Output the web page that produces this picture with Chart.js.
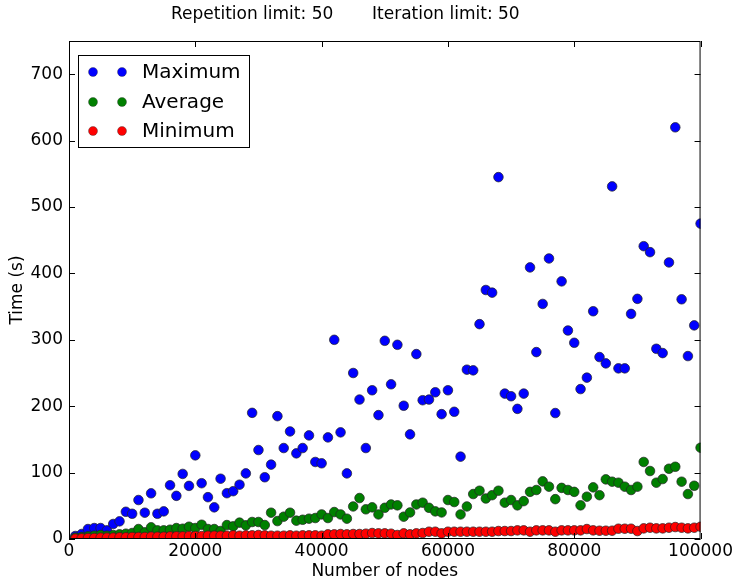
<!DOCTYPE html>
<html>
<head>
<meta charset="utf-8">
<script src="https://cdn.jsdelivr.net/npm/chart.js@4"></script>
<style>
html,body{margin:0;padding:0;background:#fff;}
canvas{display:block;}
</style>
</head>
<body>
<canvas id="c" width="735" height="577"></canvas>
<script>
const titleParts = ["Repetition limit: 50", "Iteration limit: 50"];
const xAxisTitle = "Number of nodes";
const yAxisTitle = "Time (s)";
const seriesNames = ["Maximum", "Average", "Minimum"];
const xTickValues = [0, 20000, 40000, 60000, 80000, 100000];
const yTickValues = [0, 100, 200, 300, 400, 500, 600, 700];

const nodes = [1000,2000,3000,4000,5000,6000,7000,8000,9000,10000,
11000,12000,13000,14000,15000,16000,17000,18000,19000,20000,
21000,22000,23000,24000,25000,26000,27000,28000,29000,30000,
31000,32000,33000,34000,35000,36000,37000,38000,39000,40000,
41000,42000,43000,44000,45000,46000,47000,48000,49000,50000,
51000,52000,53000,54000,55000,56000,57000,58000,59000,60000,
61000,62000,63000,64000,65000,66000,67000,68000,69000,70000,
71000,72000,73000,74000,75000,76000,77000,78000,79000,80000,
81000,82000,83000,84000,85000,86000,87000,88000,89000,90000,
91000,92000,93000,94000,95000,96000,97000,98000,99000,100000];

const maximum = [4.5,7.5,15,16.5,16.5,13,22.6,26.6,41,38,
58.7,39.6,68.8,38,41.6,81,65,98,80,126,
84,63,47.7,90.8,69,72,81.8,98.8,190,134,
93,112,185,137,162,129,137,156,116,114,
153,300,160.6,98.8,250,210,137,224,186.6,298.5,
233,292.5,200.7,157.6,278.5,209,210,221,188,224,
191.6,124,255,254,323.6,375,371,545,219,215,
196,219,409,281.5,354,422.5,189.7,388,314,295.5,
225.8,243,343,274,264.5,531,257,257,339,361.7,
441,432,286.5,280,416.5,620,361,275.5,321.7,475];

const average = [2,3,4,5,6,5,6,7,8,9,
15,10,17.6,13,13,14,16.5,15.5,18.5,16.5,
21.5,15,15,12,21,19,24.6,20.6,25.6,25.6,
21,39.6,27,33.6,39.6,27.6,29,30.6,31.6,37,
31.6,40.6,37,30.6,49,61.7,44.7,47.7,37,47,
52,50.7,33.6,40,52,54.7,47,41.6,40,58.7,
55.7,37,49,67.7,72.7,61,66,72.7,54.7,58.7,
50.7,57,71,73.8,86.8,78.8,60,77,73.8,71,
50.7,63.7,77.8,66,89.8,86.3,84.8,78.8,73.8,78.8,
116,102.4,84.8,90.3,105.8,108.8,86.3,67.7,80.2,137.5];

const minimum = [0.5,1,1.5,1.5,2,2,2,2.5,2.5,3,
3,3,3.5,3.5,3.5,4,4,4,4.5,4.5,
4.5,5,5,5,5,5.5,5,5.5,5.5,6,
5.5,5,5,5,5.5,5,5.5,5.5,5.5,5,
7,7,7.5,7,7.5,7.5,8,9,8.5,
8.5,8,6,8.5,7,8.5,9,11,11,8.5,11,
11,11,11,11,11,11,11,12,12,12,
13,13,11,13,13,13,11,13,13,13,13,15,13,
12.5,12.5,12.5,15.5,15.5,15.5,12,16,17,16,16,17,18,17,16,17,18.5];

const colors = ["#0000ff", "#008000", "#ff0000"];
const FONT = "'DejaVu Sans', sans-serif";

function pts(ys) { return nodes.map((x, i) => ({x: x, y: ys[i]})); }

const frameAndTicks = {
  id: 'frameAndTicks',
  afterDatasetsDraw(chart) {
    const {ctx, chartArea: a, scales} = chart;
    ctx.save();
    ctx.strokeStyle = '#000';
    ctx.lineWidth = 1;
    const L = 6;
    ctx.beginPath();
    scales.x.ticks.forEach(t => {
      const px = Math.round(scales.x.getPixelForValue(t.value)) + 0.5;
      ctx.moveTo(px, a.bottom); ctx.lineTo(px, a.bottom - L);
      ctx.moveTo(px, a.top); ctx.lineTo(px, a.top + L);
    });
    scales.y.ticks.forEach(t => {
      const py = Math.round(scales.y.getPixelForValue(t.value)) + 0.5;
      ctx.moveTo(a.left, py); ctx.lineTo(a.left + L, py);
      ctx.moveTo(a.right, py); ctx.lineTo(a.right - L, py);
    });
    ctx.stroke();
    ctx.strokeRect(a.left + 0.5, a.top + 0.5, a.right - a.left - 1, a.bottom - a.top - 1);
    ctx.restore();
  },
  afterDraw(chart) {
    const {ctx} = chart;
    ctx.save();
    // title (two parts)
    ctx.fillStyle = '#000';
    ctx.font = "17px " + FONT;
    ctx.textAlign = 'left';
    ctx.textBaseline = 'middle';
    ctx.fillText(titleParts[0], 171, 15);
    ctx.fillText(titleParts[1], 372, 15);
    // legend
    const bx = 78.5, by = 55.5, bw = 171, bh = 92;
    ctx.fillStyle = '#fff';
    ctx.fillRect(bx, by, bw, bh);
    ctx.strokeStyle = '#000';
    ctx.lineWidth = 1;
    ctx.strokeRect(bx, by, bw, bh);
    const rows = [72, 102, 131];
    ctx.font = "20px " + FONT;
    seriesNames.forEach((name, i) => {
      [93, 122].forEach(mx => {
        ctx.beginPath();
        ctx.arc(mx, rows[i], 4.5, 0, Math.PI * 2);
        ctx.fillStyle = colors[i];
        ctx.fill();
        ctx.lineWidth = 0.4;
        ctx.strokeStyle = '#333';
        ctx.stroke();
      });
      ctx.fillStyle = '#000';
      ctx.fillText(name, 142, rows[i] + 1);
    });
    ctx.restore();
  }
};

const ds = (label, data, color, order) => ({
  label: label,
  data: pts(data),
  backgroundColor: color,
  borderColor: '#222',
  borderWidth: 0.7,
  pointRadius: 4.8,
  pointHoverRadius: 4.8,
  showLine: false,
  clip: 0,
  order: order
});

new Chart(document.getElementById('c'), {
  type: 'scatter',
  data: {
    datasets: [
      ds(seriesNames[0], maximum, colors[0], 3),
      ds(seriesNames[1], average, colors[1], 2),
      ds(seriesNames[2], minimum, colors[2], 1)
    ]
  },
  options: {
    responsive: false,
    animation: false,
    devicePixelRatio: 1,
    events: [],
    layout: { padding: { top: 41, right: 33, left: 0, bottom: 0 } },
    plugins: { legend: { display: false }, title: { display: false }, tooltip: { enabled: false } },
    scales: {
      x: {
        type: 'linear',
        min: 0, max: 100000,
        afterBuildTicks: s => { s.ticks = xTickValues.map(v => ({value: v})); },
        afterFit: s => { s.height = 38; },
        grid: { display: false, drawTicks: false },
        border: { display: false },
        ticks: { color: '#000', font: { family: FONT, size: 17 }, padding: 2, autoSkip: false, maxRotation: 0, callback: v => String(v) },
        title: { display: true, text: xAxisTitle, color: '#000', font: { family: FONT, size: 17, lineHeight: 1 }, padding: { top: 0, bottom: -3 } }
      },
      y: {
        type: 'linear',
        min: 0, max: 750,
        afterBuildTicks: s => { s.ticks = yTickValues.map(v => ({value: v})); },
        afterFit: s => { s.width = 69; },
        grid: { display: false, drawTicks: false },
        border: { display: false },
        ticks: { color: '#000', font: { family: FONT, size: 17 }, padding: 6, callback: v => String(v) },
        title: { display: true, text: yAxisTitle, color: '#000', font: { family: FONT, size: 17, lineHeight: 1 }, padding: { top: 9, bottom: 0 } }
      }
    }
  },
  plugins: [frameAndTicks]
});
</script>
</body>
</html>
